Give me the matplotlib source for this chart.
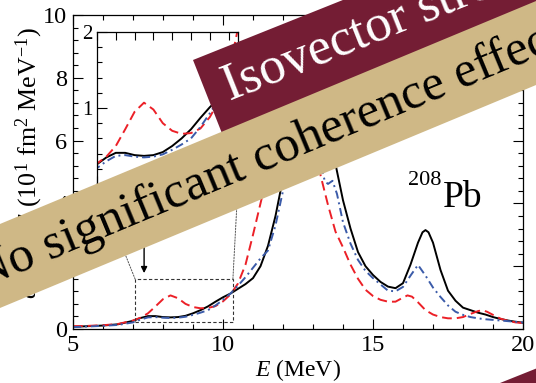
import matplotlib
matplotlib.use("Agg")
import matplotlib.pyplot as plt
from matplotlib.patches import Polygon, Rectangle, ConnectionPatch
from matplotlib.ticker import MultipleLocator, FixedLocator, NullFormatter

plt.rcParams['font.family'] = ['Liberation Serif', 'DejaVu Serif']
plt.rcParams['mathtext.fontset'] = 'custom'
plt.rcParams['mathtext.rm'] = 'Liberation Serif'
plt.rcParams['mathtext.it'] = 'Liberation Serif:italic'
plt.rcParams['mathtext.bf'] = 'Liberation Serif:bold'

# ---- strength functions for 208Pb (units of 10 fm^2 / MeV) ----
energy_full = [5.0, 5.5, 6.0, 6.5, 7.0, 7.25, 7.5, 7.75, 8.0, 8.25, 8.5, 8.75,
               9.0, 9.25, 9.5, 9.75, 10.0, 10.25, 10.5, 10.75, 11.0, 11.25,
               11.5, 11.75, 12.0, 12.25, 12.5, 12.75, 13.0, 13.25, 13.5, 13.75,
               14.0, 14.25, 14.5, 14.75, 15.0, 15.25, 15.5, 15.75, 16.0, 16.25,
               16.5, 16.65, 16.75, 16.85, 17.0, 17.25, 17.5, 17.75, 18.0, 18.25,
               18.5, 18.75, 19.0, 19.25, 19.5, 19.75, 20.0]
strength_full = [0.07, 0.09, 0.11, 0.15, 0.26, 0.35, 0.41, 0.41, 0.38, 0.37,
                 0.38, 0.42, 0.50, 0.60, 0.72, 0.87, 1.01, 1.13, 1.28, 1.43,
                 1.62, 2.00, 2.65, 3.60, 4.80, 5.80, 6.60, 7.10, 7.20, 6.80,
                 6.10, 5.25, 4.10, 3.20, 2.45, 2.00, 1.72, 1.50, 1.35, 1.30,
                 1.46, 2.05, 2.75, 3.08, 3.15, 3.08, 2.75, 1.88, 1.22, 0.90,
                 0.68, 0.60, 0.52, 0.46, 0.38, 0.32, 0.27, 0.23, 0.20]

energy_red = [5.0, 5.5, 6.0, 6.5, 7.0, 7.25, 7.5, 7.75, 8.0, 8.25, 8.5, 8.75,
              9.0, 9.25, 9.5, 9.75, 10.0, 10.25, 10.5, 10.75, 11.0, 11.25,
              11.5, 11.75, 12.0, 12.25, 12.5, 12.75, 13.0, 13.25, 13.5, 13.75,
              14.0, 14.25, 14.5, 14.75, 15.0, 15.25, 15.5, 15.75, 16.0, 16.15,
              16.3, 16.5, 16.75, 17.0, 17.25, 17.5, 17.75, 18.0, 18.25, 18.5,
              18.65, 18.8, 19.0, 19.25, 19.5, 19.75, 20.0]
strength_red = [0.09, 0.10, 0.12, 0.16, 0.27, 0.36, 0.50, 0.72, 0.95, 1.07,
                0.98, 0.80, 0.70, 0.66, 0.67, 0.73, 0.88, 1.10, 1.45, 2.05,
                3.00, 4.00, 5.00, 5.90, 6.70, 7.30, 7.60, 7.50, 6.60, 4.90,
                3.95, 3.10, 2.60, 2.05, 1.60, 1.25, 1.05, 0.93, 0.87, 0.87,
                1.00, 1.07, 1.03, 0.85, 0.60, 0.46, 0.38, 0.34, 0.34, 0.38,
                0.48, 0.57, 0.60, 0.55, 0.45, 0.33, 0.26, 0.21, 0.19]

energy_blue = [5.0, 5.5, 6.0, 6.5, 7.0, 7.25, 7.5, 7.75, 8.0, 8.25, 8.5, 8.75,
               9.0, 9.25, 9.5, 9.75, 10.0, 10.25, 10.5, 10.75, 11.0, 11.25,
               11.5, 11.75, 12.0, 12.25, 12.5, 12.75, 13.0, 13.25, 13.4, 13.5,
               13.65, 13.8, 14.0, 14.25, 14.5, 14.75, 15.0, 15.25, 15.5, 15.75,
               16.0, 16.25, 16.5, 16.75, 17.0, 17.25, 17.5, 17.75, 18.0, 18.25,
               18.5, 18.75, 19.0, 19.5, 20.0]
strength_blue = [0.06, 0.08, 0.10, 0.13, 0.21, 0.30, 0.37, 0.38, 0.36, 0.35,
                 0.36, 0.39, 0.45, 0.52, 0.60, 0.75, 0.93, 1.13, 1.38, 1.65,
                 1.95, 2.25, 2.50, 3.30, 4.40, 5.40, 6.20, 6.70, 6.50, 5.20,
                 4.70, 4.62, 4.72, 4.30, 3.40, 2.72, 2.20, 1.85, 1.62, 1.42,
                 1.22, 1.20, 1.34, 1.70, 2.04, 1.70, 1.32, 1.02, 0.75, 0.55,
                 0.45, 0.38, 0.34, 0.31, 0.29, 0.25, 0.21]

nucleus_mass = "208"
nucleus_symbol = "Pb"
banner_top_text = "Isovector strength"
banner_mid_text = "No significant coherence effect"

RED = '#EC2027'
BLUE = '#3B5BA9'
MAROON = '#741D34'
GOLD = '#CFB886'

W, H = 536, 383
AX_H = 314
fig = plt.figure(figsize=(W / 100, H / 100), dpi=100)

# main panel
ax = fig.add_axes([73 / W, 1 - 329 / H, 450 / W, AX_H / H], zorder=1)
series = [
    (energy_full, strength_full, dict(color='black', lw=1.4, ls='-')),
    (energy_red, strength_red, dict(color=RED, lw=1.4, ls=(0, (5.0, 2.6)))),
    (energy_blue, strength_blue, dict(color=BLUE, lw=1.4, ls=(0, (4.2, 2.0, 1.0, 2.0)))),
]
for e, s, kw in series:
    ax.plot(e, s, **kw)

ax.set_xlim(5, 20)
ax.set_ylim(0, 10)
ax.xaxis.set_major_locator(MultipleLocator(5))
ax.xaxis.set_minor_locator(MultipleLocator(1))
ax.yaxis.set_major_locator(MultipleLocator(2))
ax.yaxis.set_minor_locator(MultipleLocator(0.4))
ax.tick_params(which='both', direction='in', top=True, right=True,
               labelsize=17.5, width=0.8)
ax.tick_params(which='major', length=7, pad=4)
ax.tick_params(which='minor', length=3.6)
for sp in ax.spines.values():
    sp.set_linewidth(0.9)

ax.set_xlabel('$E$ (MeV)', fontsize=17)
ax.xaxis.set_label_coords(0.5, -0.09)
ax.set_ylabel(r'$dB_{E1}/dE$ (10$^{1}$ fm$^{2}$ MeV$^{-1}$)', fontsize=18.7)
ylab_y = 0.513
ax.yaxis.set_label_coords(-0.062, ylab_y)

# keep the upper end of the y label 27 px below the figure top
fig.canvas.draw()
top_px = ax.yaxis.label.get_window_extent().y1
ylab_y += ((H - 27) - top_px) / AX_H
ax.yaxis.set_label_coords(-0.062, ylab_y)

ax.text(16.17, 4.59, nucleus_mass, fontsize=16, ha='left', va='baseline')
ax.text(17.33, 3.885, nucleus_symbol, fontsize=27, ha='left', va='baseline')

# zoom box and arrow
box_x0, box_x1, box_y0, box_y1 = 7.07, 10.33, 0.21, 1.59
ax.add_patch(Rectangle((box_x0, box_y0), box_x1 - box_x0, box_y1 - box_y0,
                       fill=False, ls=(0, (3, 2)), lw=0.8, ec='#333333', zorder=3))
ax.annotate('', xy=(7.37, 1.78), xytext=(7.37, 2.8),
            arrowprops=dict(arrowstyle='-|>', color='black', lw=1.0,
                            mutation_scale=9, shrinkA=0, shrinkB=0))

# inset panel
axin = fig.add_axes([97 / W, 1 - 184 / H, 141 / W, 152 / H], zorder=5)
for e, s, kw in series:
    axin.plot(e, s, **kw)
axin.set_xlim(7.0, 10.75)
axin.set_ylim(0, 2)
axin.xaxis.set_major_locator(MultipleLocator(0.5))
axin.xaxis.set_major_formatter(NullFormatter())
axin.yaxis.set_major_locator(FixedLocator([1, 2]))
axin.yaxis.set_minor_locator(MultipleLocator(0.2))
axin.tick_params(which='both', direction='in', top=True, right=True,
                 labelsize=15, width=0.8)
axin.tick_params(axis='x', which='major', length=5.5)
axin.tick_params(axis='y', which='major', length=7, pad=3)
axin.tick_params(axis='y', which='minor', length=3.6)
for sp in axin.spines.values():
    sp.set_linewidth(0.9)

for xa, xb in [(box_x0, 0.0), (box_x1, 1.0)]:
    con = ConnectionPatch(xyA=(xa, box_y1), coordsA=ax.transData,
                          xyB=(xb, 0.0), coordsB=axin.transAxes,
                          ls=(0, (1.5, 1.5)), lw=0.7, color='#555555', zorder=2)
    fig.add_artist(con)

# banners drawn on a full-figure overlay in pixel units
ov = fig.add_axes([0, 0, 1, 1], zorder=20)
ov.set_xlim(0, W)
ov.set_ylim(H, 0)
ov.axis('off')
ov.patch.set_alpha(0)

ov.add_patch(Polygon([(193, 60), (750, -163), (783, -80), (226, 143.5)],
                     closed=True, fc=MAROON, ec='none'))
ov.add_patch(Polygon([(-20, 232.3), (600, -25.6), (600, 58.4), (-20, 316.3)],
                     closed=True, fc=GOLD, ec='none'))
ov.add_patch(Polygon([(500, 383), (536, 368.6), (600, 342), (600, 420), (490, 420)],
                     closed=True, fc=MAROON, ec='none'))

ov.text(230, 101, banner_top_text, color='white', fontsize=38,
        rotation=21.8, rotation_mode='anchor', ha='left', va='baseline')
ov.text(274, 167, banner_mid_text, color='black', fontsize=36.5,
        rotation=22.6, rotation_mode='anchor', ha='center', va='baseline')

fig.savefig('out.png', dpi=100)
